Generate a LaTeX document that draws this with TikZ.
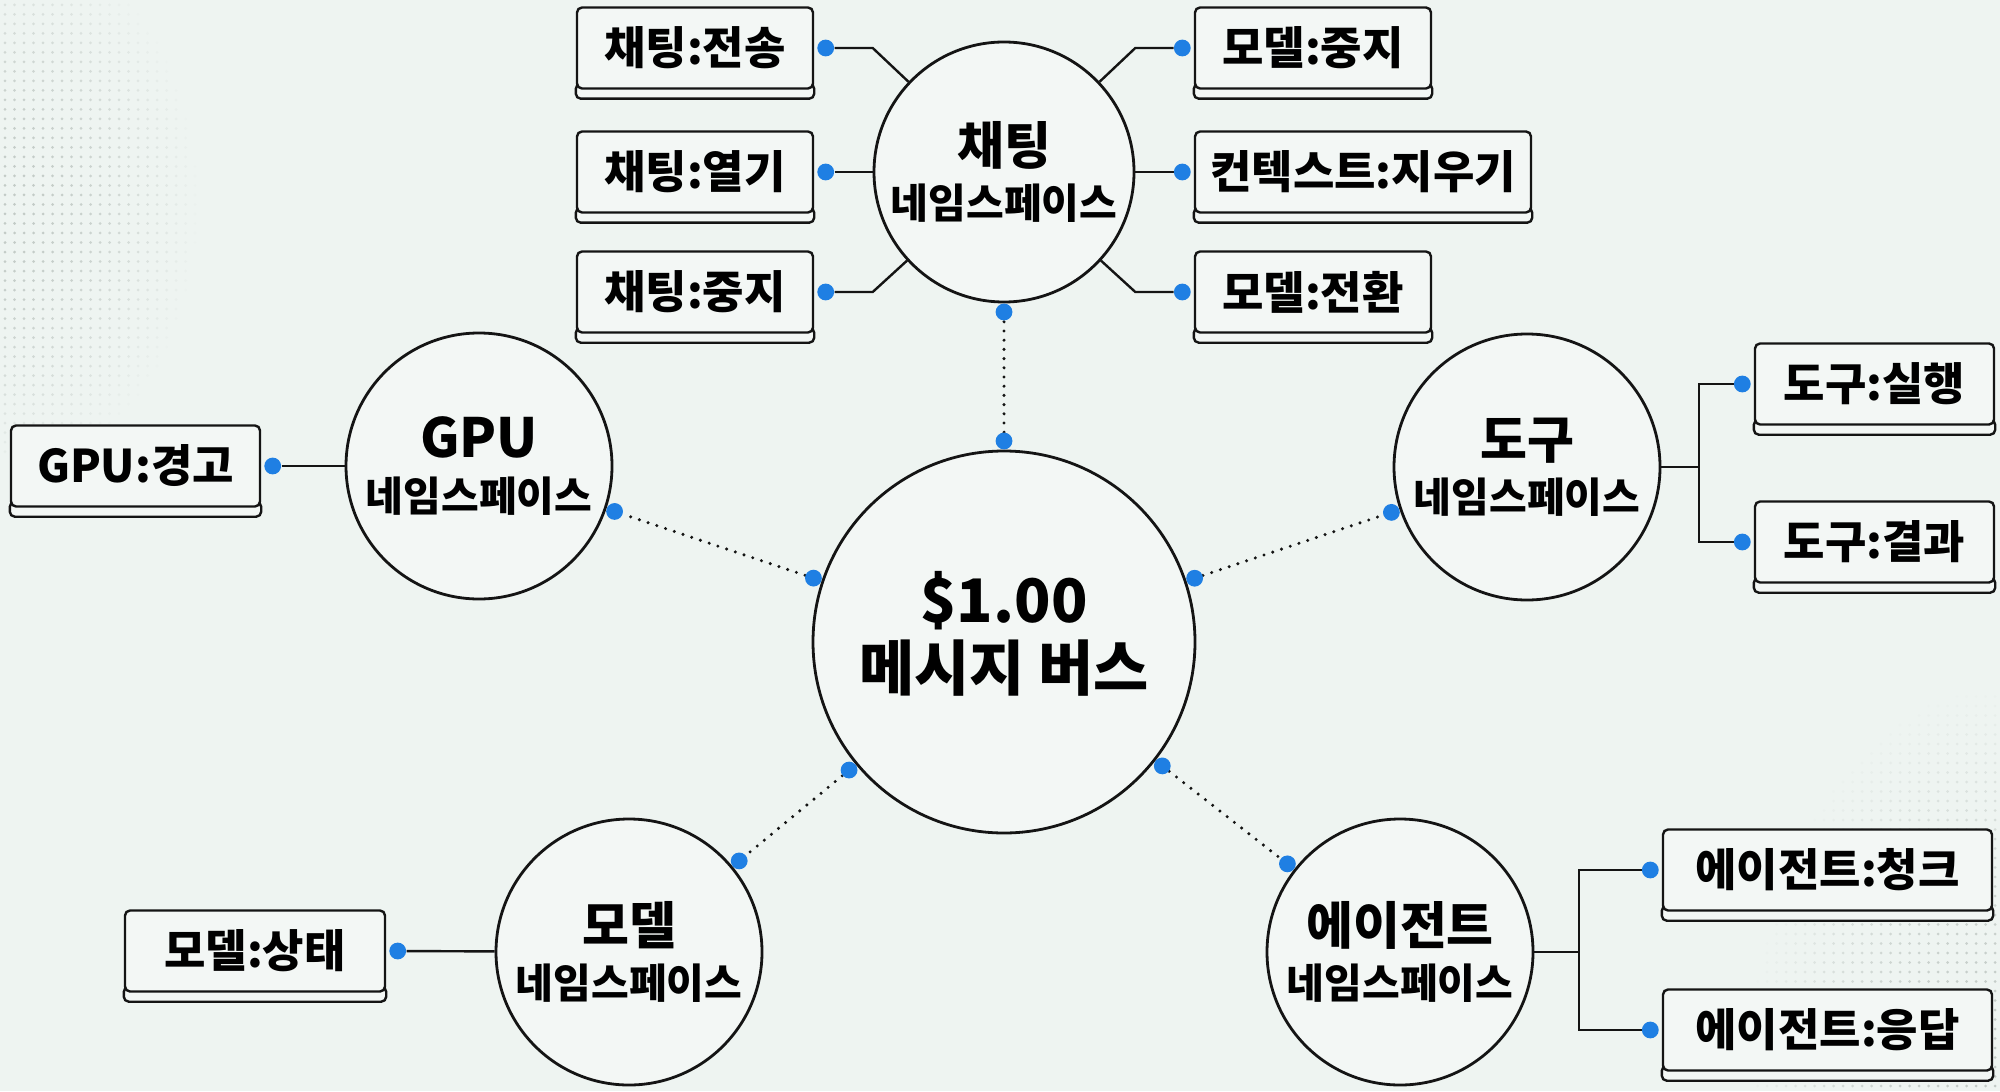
\documentclass[tikz,border=0pt]{standalone}
\usepackage{fontspec}
\setmainfont{Noto Sans CJK KR}[BoldFont={Noto Sans CJK KR Black}]
\usetikzlibrary{calc}
\definecolor{bgc}{HTML}{EEF4F1}
\definecolor{boxfill}{HTML}{F3F7F5}
\definecolor{dotblue}{HTML}{1F7FE3}
\definecolor{ink}{HTML}{141414}
\definecolor{patt}{HTML}{B4BDB8}
\pgfdeclarelayer{back}
\pgfdeclarelayer{lines}
\pgfsetlayers{back,lines,main}
\begin{document}
\begin{tikzpicture}[x=0.5pt,y=-0.5pt,
  ns/.style={circle,draw=ink,line width=1.4pt,fill=boxfill,inner sep=0pt,minimum size=133pt,align=center,
    font=\bfseries\fontsize{20.5}{27}\selectfont},
  keybox/.style={draw=ink,line width=1.2pt,fill=boxfill,rounded corners=2.5pt,minimum height=40.5pt,inner sep=0pt,
    font=\bfseries\fontsize{22.5}{24}\selectfont},
  band/.style={draw=ink,line width=1.2pt,fill=boxfill,rounded corners=2.5pt},
  link/.style={draw=ink,line width=1.2pt},
  buslink/.style={draw=ink,line width=1.7pt,dash pattern=on 0pt off 4.6pt,line cap=round},
  pin/.style={circle,fill=dotblue,inner sep=0pt,minimum size=8.4pt}
]
\useasboundingbox (0,0) rectangle (2000,1091);
\begin{pgfonlayer}{back}
  \fill[bgc] (0,0) rectangle (2000,1091);
  \foreach \i in {0,...,20}{\foreach \j in {0,...,47}{%
    \pgfmathsetmacro\op{0.75*(1-((9.5*\i)/195)^2-((9.5*\j-200)/270)^2)}%
    \ifdim\op pt>0.02pt \fill[patt,opacity=\op] (5+9.5*\i,5+9.5*\j) circle[radius=0.75pt];\fi
  }}
  \foreach \i in {0,...,26}{\foreach \j in {0,...,45}{%
    \pgfmathsetmacro\op{0.75*(1-((9.5*\i)/250)^2-((9.5*\j)/400)^2)}%
    \ifdim\op pt>0.02pt \fill[patt,opacity=\op] (1995-9.5*\i,1086-9.5*\j) circle[radius=0.75pt];\fi
  }}
\end{pgfonlayer}

% namespace circles
\node[ns,minimum size=191pt] (bus) at (1004,642) {};
\node[font=\bfseries\fontsize{30}{34}\selectfont,align=center,inner sep=0pt] (busLbl) at (1004,634) {\$1.00\\메시지 버스};
\node[ns,minimum size=130pt] (chat) at (1004,172) {{\fontsize{25.5}{27}\selectfont 채팅}\\네임스페이스};
\node[ns] (gpu) at (479,466) {{\fontsize{27}{27}\selectfont GPU}\\네임스페이스};
\node[ns] (tool) at (1527,467) {{\fontsize{25.5}{27}\selectfont 도구}\\네임스페이스};
\node[ns] (model) at (629,952) {{\fontsize{25.5}{27}\selectfont 모델}\\네임스페이스};
\node[ns] (agent) at (1400,952) {{\fontsize{25.5}{27}\selectfont 에이전트}\\네임스페이스};

% event boxes
\node[keybox,minimum width=118pt] (cs) at (695,48) {채팅:전송};
\node[keybox,minimum width=118pt] (co) at (695,172) {채팅:열기};
\node[keybox,minimum width=118pt] (cx) at (695,292) {채팅:중지};
\node[keybox,minimum width=118pt] (ms) at (1313,48) {모델:중지};
\node[keybox,minimum width=168pt] (cc) at (1363,172) {컨텍스트:지우기};
\node[keybox,minimum width=118pt] (mw) at (1313,292) {모델:전환};
\node[keybox,minimum width=124.5pt] (gw) at (135.5,466) {GPU:경고};
\node[keybox,minimum width=130pt] (mst) at (255,951) {모델:상태};
\node[keybox,minimum width=119.5pt] (tr) at (1874.5,384) {도구:실행};
\node[keybox,minimum width=119.5pt] (tres) at (1874.5,542) {도구:결과};
\node[keybox,minimum width=164.5pt] (ac) at (1827.5,870) {에이전트:청크};
\node[keybox,minimum width=164.5pt] (ar) at (1827.5,1030) {에이전트:응답};

% pins at boxes
\node[pin] (pcs) at ([xshift=5.75pt]cs.east) {};
\node[pin] (pco) at ([xshift=5.75pt]co.east) {};
\node[pin] (pcx) at ([xshift=5.75pt]cx.east) {};
\node[pin] (pms) at ([xshift=-5.75pt]ms.west) {};
\node[pin] (pcc) at ([xshift=-5.75pt]cc.west) {};
\node[pin] (pmw) at ([xshift=-5.75pt]mw.west) {};
\node[pin] (pgw) at ([xshift=5.75pt]gw.east) {};
\node[pin] (pmst) at ([xshift=5.75pt]mst.east) {};
\node[pin] (ptr) at ([xshift=-5.75pt]tr.west) {};
\node[pin] (ptres) at ([xshift=-5.75pt]tres.west) {};
\node[pin] (pac) at ([xshift=-5.75pt]ac.west) {};
\node[pin] (par) at ([xshift=-5.75pt]ar.west) {};

% pins on bus links
\node[pin] (bC) at ($(bus)!100.5pt!(chat)$) {};
\node[pin] (cB) at ($(chat)!70pt!(bus)$) {};
\node[pin] (bG) at ($(bus)!100.5pt!(gpu)$) {};
\node[pin] (gB) at ($(gpu)!71.5pt!(bus)$) {};
\node[pin] (bT) at ($(bus)!100.5pt!(tool)$) {};
\node[pin] (tB) at ($(tool)!71.5pt!(bus)$) {};
\node[pin] (bM) at ($(bus)!100.5pt!(model)$) {};
\node[pin] (mB) at ($(model)!71.5pt!(bus)$) {};
\node[pin] (bA) at ($(bus)!100.5pt!(agent)$) {};
\node[pin] (aB) at ($(agent)!71.5pt!(bus)$) {};

\begin{pgfonlayer}{lines}
  \foreach \b in {cs,co,cx,ms,cc,mw,gw,mst,tr,tres,ac,ar}
    \draw[band] ([yshift=3pt]\b.south west) rectangle ([yshift=-4.5pt]\b.south east);
  % chat links
  \draw[link] (pcs) -- ($(pcs)+(47,0)$) -- (chat);
  \draw[link] (pco) -- (chat);
  \draw[link] (pcx) -- ($(pcx)+(47,0)$) -- (chat);
  \draw[link] (pms) -- ($(pms)+(-47,0)$) -- (chat);
  \draw[link] (pcc) -- (chat);
  \draw[link] (pmw) -- ($(pmw)+(-47,0)$) -- (chat);
  % single links
  \draw[link] (pgw) -- (gpu);
  \draw[link] (pmst) -- (model);
  % forks
  \coordinate (tj) at (1699,467);
  \draw[link] (tool) -- (tj);
  \draw[link] (ptr) -| (tj) |- (ptres);
  \coordinate (aj) at (1579,952);
  \draw[link] (agent) -- (aj);
  \draw[link] (pac) -| (aj) |- (par);
  % bus links
  \draw[buslink] (bC) -- (cB);
  \draw[buslink] (bG) -- (gB);
  \draw[buslink] (bT) -- (tB);
  \draw[buslink] (bM) -- (mB);
  \draw[buslink] (bA) -- (aB);
\end{pgfonlayer}
\end{tikzpicture}
\end{document}
